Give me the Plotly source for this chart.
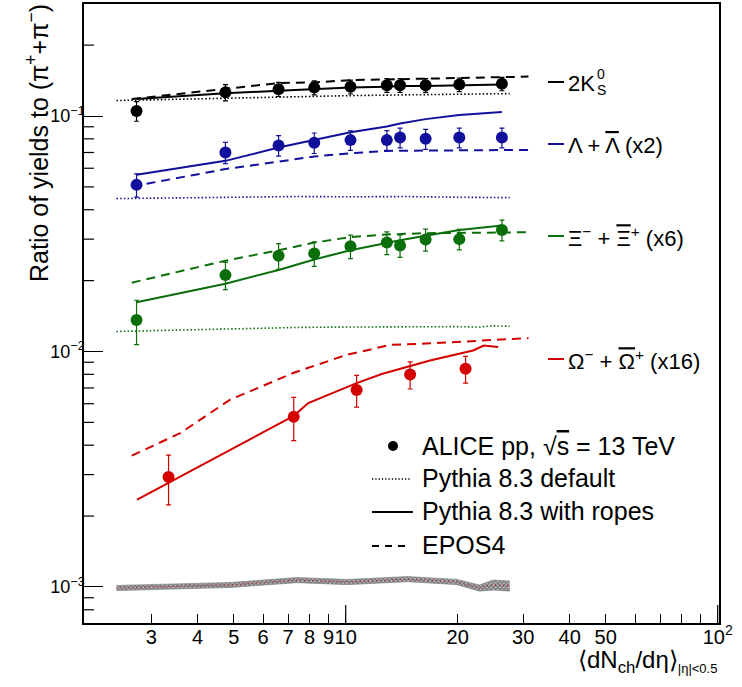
import numpy as np
import plotly.graph_objects as go

# ---------------- data ----------------
mult = [2.74, 4.75, 6.6, 8.23, 10.3, 12.9, 14.0, 16.4, 20.2, 26.3]

k0s = [0.105, 0.126, 0.130, 0.132, 0.133, 0.135, 0.135, 0.135, 0.136, 0.137]
k0s_err = [0.010, 0.010, 0.009, 0.009, 0.009, 0.009, 0.009, 0.009, 0.009, 0.009]
lam = [0.051, 0.070, 0.075, 0.077, 0.079, 0.079, 0.081, 0.080, 0.081, 0.081]
lam_err = [0.0058, 0.0072, 0.0075, 0.0077, 0.0075, 0.0076, 0.0078, 0.0078, 0.0078, 0.0078]
xi = [0.0136, 0.0211, 0.0255, 0.0261, 0.0280, 0.0290, 0.0282, 0.0299, 0.0300, 0.0328]
xi_err = [0.0029, 0.0028, 0.0032, 0.0031, 0.0032, 0.0032, 0.0031, 0.0032, 0.0030, 0.0033]

mult_omega = [3.34, 7.25, 10.7, 14.9, 21.0]
omega = [0.00293, 0.00528, 0.00686, 0.00798, 0.00844]
omega_err = [0.0007, 0.0011, 0.00106, 0.00105, 0.0011]

# Pythia 8.3 with ropes (solid)
k0s_ropes = [0.118, 0.125, 0.128, 0.130, 0.132, 0.133, 0.134, 0.134, 0.135, 0.136]
lam_ropes = [0.0563, 0.0645, 0.0735, 0.079, 0.0854, 0.0902, 0.093, 0.097, 0.101, 0.104]
xi_ropes = [0.0162, 0.0194, 0.0222, 0.0246, 0.0269, 0.0290, 0.0297, 0.0310, 0.0328, 0.0343]
mult_omega_ropes = [2.75, 4.60, 7.25, 7.93, 10.7, 12.5, 14.9, 16.85, 22.0, 23.5, 25.7]
omega_ropes = [0.00235, 0.00364, 0.00533, 0.00604, 0.00734, 0.00802, 0.00864, 0.00916, 0.0101, 0.0106, 0.01045]

# EPOS4 (dashed)
mult_epos = [2.66, 4.75, 6.6, 8.23, 10.3, 12.9, 16.4, 20.2, 26.3, 31.0]
k0s_epos = [0.118, 0.131, 0.138, 0.139, 0.142, 0.143, 0.144, 0.145, 0.147, 0.147]
lam_epos = [0.0502, 0.0595, 0.0640, 0.0673, 0.0695, 0.0711, 0.0713, 0.0715, 0.0717, 0.0718]
xi_epos = [0.0196, 0.0243, 0.0269, 0.0290, 0.0306, 0.0314, 0.0318, 0.0318, 0.0320, 0.0321]
mult_omega_epos = [2.66, 3.59, 4.89, 7.25, 10.06, 13.2, 16.4, 20.2, 31.0]
omega_epos = [0.00361, 0.0045, 0.00624, 0.00812, 0.00968, 0.01067, 0.0108, 0.0110, 0.0114]

# Pythia 8.3 default (dotted)
mult_default = [2.42, 3.6, 4.9, 7.4, 10.1, 14.7, 19.9, 22.9, 24.9, 27.6]
k0s_default = [0.1163, 0.118, 0.1195, 0.121, 0.122, 0.123, 0.1235, 0.124, 0.1245, 0.1245]
lam_default = [0.0446, 0.0449, 0.0452, 0.0455, 0.0454, 0.0455, 0.0452, 0.0451, 0.0450, 0.0450]
xi_default = [0.01216, 0.01235, 0.0125, 0.01265, 0.0127, 0.01275, 0.01275, 0.0127, 0.01285, 0.0128]
omega_default = [0.00099, 0.00101, 0.00102, 0.00107, 0.00105, 0.00108, 0.00105, 0.00099, 0.00102, 0.00101]
omega_default_err = [0.000025, 0.000025, 0.000025, 0.000027, 0.000027, 0.000027, 0.000027, 0.00003, 0.00005, 0.00005]

x_tick_vals = [3, 4, 5, 6, 7, 8, 9, 10, 20, 30, 40, 50, 60, 70, 80, 90, 100]
x_tick_text = ["3", "4", "5", "6", "7", "8", "9", "10", "20", "30", "40", "50", "", "", "", "", "10<sup>2</sup>"]
y_tick_vals = [1e-3, 1e-2, 1e-1]
y_tick_text = ["10<sup>\u22123</sup>", "10<sup>\u22122</sup>", "10<sup>\u22121</sup>"]

# ---------------- style ----------------
FONT = "Liberation Sans, Arial, Helvetica, sans-serif"
BLACK, BLUE, GREEN, RED = "#000000", "#10109c", "#0a6e0a", "#d40000"
W, H = 742, 687
L, R, T, B = 84, 719, 4, 623
XR = [0.2965, 2.0035]
YR = [np.log10(7.03e-4), np.log10(0.299)]


def xp(px):
    return (px - L) / (R - L)


def yp(py):
    return (B - py) / (B - T)


def xfrac(v):
    return (np.log10(v) - XR[0]) / (XR[1] - XR[0])


def yfrac(v):
    return (np.log10(v) - YR[0]) / (YR[1] - YR[0])


fig = go.Figure()

DOT = "1.5px,2.2px"
DASH = "9px,6px"

# Omega default band (hatched)
om_lo = [v - e for v, e in zip(omega_default, omega_default_err)]
om_hi = [v + e for v, e in zip(omega_default, omega_default_err)]
fig.add_trace(go.Scatter(x=mult_default, y=om_hi, mode="lines", line=dict(width=0.6, color="#777"),
                         showlegend=False, hoverinfo="skip"))
fig.add_trace(go.Scatter(x=mult_default, y=om_lo, mode="lines", line=dict(width=0.6, color="#777"),
                         fill="tonexty", fillcolor="rgba(150,150,150,0.6)",
                         fillpattern=dict(shape="x", size=3, solidity=0.6, fgcolor="#333", bgcolor="#bbb"),
                         showlegend=False, hoverinfo="skip"))
fig.add_trace(go.Scatter(x=mult_default, y=omega_default, mode="lines",
                         line=dict(color=RED, width=1, dash="1px,3px"), showlegend=False, hoverinfo="skip"))

groups = [
    (BLACK, k0s_default, k0s_ropes, mult, mult_epos, k0s_epos),
    (BLUE, lam_default, lam_ropes, mult, mult_epos, lam_epos),
    (GREEN, xi_default, xi_ropes, mult, mult_epos, xi_epos),
    (RED, None, omega_ropes, mult_omega_ropes, mult_omega_epos, omega_epos),
]
for col, dflt, ropes, xr_, xe, epos in groups:
    if dflt is not None:
        fig.add_trace(go.Scatter(x=mult_default, y=dflt, mode="lines",
                                 line=dict(color=col, width=1.6, dash=DOT), showlegend=False))
    fig.add_trace(go.Scatter(x=xe, y=epos, mode="lines",
                             line=dict(color=col, width=2, dash=DASH), showlegend=False))
    fig.add_trace(go.Scatter(x=xr_, y=ropes, mode="lines",
                             line=dict(color=col, width=2), showlegend=False))

data_sets = [
    (BLACK, mult, k0s, k0s_err),
    (BLUE, mult, lam, lam_err),
    (GREEN, mult, xi, xi_err),
    (RED, mult_omega, omega, omega_err),
]
for col, xx, yy, ee in data_sets:
    fig.add_trace(go.Scatter(x=xx, y=yy, mode="markers",
                             marker=dict(color=col, size=12, symbol="circle"),
                             error_y=dict(type="data", array=ee, color=col, thickness=1.2, width=2.5),
                             showlegend=False))

shapes = []
annots = []

# long major ticks on x at 10 and 100
for v in [10, 100]:
    shapes.append(dict(type="line", xref="paper", yref="paper", x0=xfrac(v), x1=xfrac(v),
                       y0=0, y1=18 / (B - T), line=dict(color="black", width=1.2)))
# minor ticks on y
y_minor = [v * 10.0 ** e for e in (-4, -3, -2, -1) for v in range(2, 10) if 7.05e-4 <= v * 10.0 ** e <= 0.3]
for v in y_minor:
    shapes.append(dict(type="line", xref="paper", yref="paper", x0=0, x1=10 / (R - L),
                       y0=yfrac(v), y1=yfrac(v), line=dict(color="black", width=1.2)))

# right-hand particle labels
lab_font = dict(family=FONT, size=22, color="black")
OV = "<span style='text-decoration:overline'>%s</span>"
right_labels = [
    (BLACK, 82, "2K"),
    (BLUE, 144, "\u039b + " + OV % "\u039b" + " (x2)"),
    (GREEN, 236, "\u039e<sup>\u2212</sup> + " + OV % "\u039e" + "<sup>+</sup> (x6)"),
    (RED, 359, "\u03a9<sup>\u2212</sup> + " + OV % "\u03a9" + "<sup>+</sup> (x16)"),
]
for col, py, txt in right_labels:
    shapes.append(dict(type="line", xref="paper", yref="paper", x0=xp(548), x1=xp(564),
                       y0=yp(py), y1=yp(py), line=dict(color=col, width=2)))
    annots.append(dict(xref="paper", yref="paper", x=xp(566), y=yp(py + 1), text=txt, showarrow=False,
                       xanchor="left", yanchor="middle", font=lab_font))
annots.append(dict(xref="paper", yref="paper", x=xp(595), y=yp(74), text="0", showarrow=False,
                   xanchor="left", yanchor="middle", font=dict(family=FONT, size=14, color="black")))
annots.append(dict(xref="paper", yref="paper", x=xp(595), y=yp(90), text="S", showarrow=False,
                   xanchor="left", yanchor="middle", font=dict(family=FONT, size=14, color="black")))

# bottom legend
leg_font = dict(family=FONT, size=25, color="black")
leg_rows = [
    (446, "ALICE pp, \u221a" + OV % "s" + " = 13 TeV"),
    (478, "Pythia 8.3 default"),
    (511, "Pythia 8.3 with ropes"),
    (545, "EPOS4"),
]
for py, txt in leg_rows:
    annots.append(dict(xref="paper", yref="paper", x=xp(420), y=yp(py), text=txt, showarrow=False,
                       xanchor="left", yanchor="middle", font=leg_font))
shapes.append(dict(type="circle", xref="paper", yref="paper", x0=xp(388), x1=xp(398),
                   y0=yp(451), y1=yp(441), fillcolor="black", line=dict(color="black", width=0)))
shapes.append(dict(type="line", xref="paper", yref="paper", x0=xp(372), x1=xp(410), y0=yp(479), y1=yp(479),
                   line=dict(color="black", width=1.3, dash="1.3px,2px")))
shapes.append(dict(type="line", xref="paper", yref="paper", x0=xp(372), x1=xp(413), y0=yp(512), y1=yp(512),
                   line=dict(color="black", width=2)))
shapes.append(dict(type="line", xref="paper", yref="paper", x0=xp(372), x1=xp(405), y0=yp(546), y1=yp(546),
                   line=dict(color="black", width=2, dash="7px,6px")))

# axis titles
annots.append(dict(xref="paper", yref="paper", x=xp(37), y=yp(2), text="Ratio of yields to (\u03c0<sup>+</sup>+\u03c0<sup>\u2212</sup>)",
                   textangle=-90, showarrow=False, xanchor="center", yanchor="top",
                   font=dict(family=FONT, size=25, color="black")))
annots.append(dict(xref="paper", yref="paper", x=xp(719), y=yp(661),
                   text="\u27e8dN<sub>ch</sub>/d\u03b7\u27e9<sub><span style='font-size:13px'>|\u03b7|&lt;0.5</span></sub>",
                   showarrow=False, xanchor="right", yanchor="middle",
                   font=dict(family=FONT, size=24, color="black")))

fig.update_layout(
    width=W, height=H,
    margin=dict(l=L, r=W - R, t=T, b=H - B, pad=0),
    paper_bgcolor="white", plot_bgcolor="white",
    showlegend=False,
    font=dict(family=FONT, color="black"),
    shapes=shapes, annotations=annots,
    xaxis=dict(type="log", range=XR, showgrid=False, zeroline=False, automargin=False,
               showline=True, linecolor="black", linewidth=1.5, mirror=True,
               ticks="inside", ticklen=9, tickwidth=1.2, tickcolor="black",
               tickmode="array", tickvals=x_tick_vals, ticktext=x_tick_text, tickangle=0,
               ticklabelstandoff=-5,
               tickfont=dict(family=FONT, size=20, color="black")),
    yaxis=dict(type="log", range=YR, showgrid=False, zeroline=False, automargin=False,
               showline=True, linecolor="black", linewidth=1.5, mirror=True,
               ticks="inside", ticklen=19, tickwidth=1.2, tickcolor="black",
               tickmode="array", tickvals=y_tick_vals, ticktext=y_tick_text,
               ticklabelstandoff=-6,
               tickfont=dict(family=FONT, size=18, color="black")),
)

fig.write_html("out.html", config={"displayModeBar": False},
               post_script="document.body.style.margin='0px';")
